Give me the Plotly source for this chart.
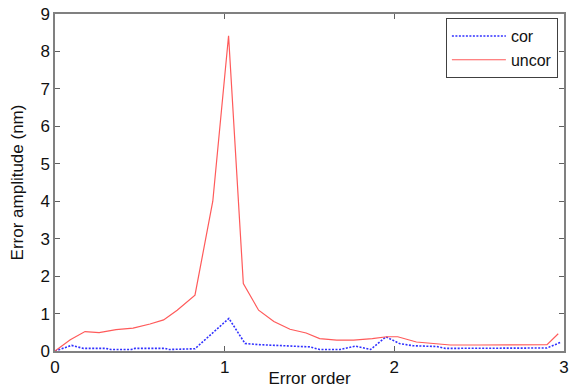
import plotly.graph_objects as go

# uncor (red solid)
uncor_x = [0.0, 0.09, 0.177, 0.26, 0.36, 0.46, 0.56, 0.64, 0.72, 0.825, 0.93, 1.023,
           1.11, 1.20, 1.29, 1.385, 1.48, 1.56, 1.66, 1.76, 1.87, 1.955, 2.02, 2.13,
           2.23, 2.33, 2.5, 2.7, 2.9, 2.966]
uncor_y = [0.0, 0.30, 0.52, 0.49, 0.57, 0.61, 0.72, 0.83, 1.09, 1.49, 4.0, 8.42,
           1.80, 1.09, 0.79, 0.58, 0.48, 0.33, 0.29, 0.29, 0.33, 0.38, 0.38, 0.24,
           0.20, 0.16, 0.16, 0.16, 0.17, 0.46]

# cor (blue dotted)
cor_x = [0.0, 0.098, 0.167, 0.30, 0.33, 0.45, 0.47, 0.65, 0.67, 0.825, 1.025,
         1.12, 1.20, 1.30, 1.50, 1.56, 1.68, 1.77, 1.86, 1.95, 2.03, 2.11, 2.25,
         2.30, 2.60, 2.9, 2.985]
cor_y = [0.0, 0.15, 0.07, 0.07, 0.04, 0.04, 0.07, 0.07, 0.04, 0.06, 0.87,
         0.20, 0.17, 0.15, 0.11, 0.04, 0.04, 0.13, 0.04, 0.38, 0.20, 0.14, 0.12,
         0.07, 0.07, 0.08, 0.24]

x_ticks = [0, 1, 2, 3]
y_ticks = [0, 1, 2, 3, 4, 5, 6, 7, 8, 9]

FONT = "Liberation Sans, Arial"

fig = go.Figure()
fig.add_trace(go.Scatter(x=cor_x, y=cor_y, mode="lines", name="cor",
                         line=dict(color="#3030ff", width=1.6, dash="2px,1.5px")))
fig.add_trace(go.Scatter(x=uncor_x, y=uncor_y, mode="lines", name="uncor",
                         line=dict(color="#ff5a5a", width=1.2)))

axis_common = dict(showgrid=False, zeroline=False, showline=True, linecolor="#808080",
                   linewidth=1.5, mirror="ticks", ticks="inside", ticklen=5,
                   tickcolor="#606060", automargin=False, ticklabeloverflow="allow",
                   tickfont=dict(family=FONT, size=17, color="#111"))

fig.update_layout(
    width=571, height=388,
    margin=dict(l=55, r=7, t=14, b=37),
    paper_bgcolor="white", plot_bgcolor="white",
    xaxis=dict(range=[0, 3], tickvals=x_ticks, ticktext=[str(v) for v in x_ticks],
               title=dict(text="Error order", standoff=0,
                          font=dict(family=FONT, size=17, color="#111")),
               **axis_common),
    yaxis=dict(range=[0, 9], tickvals=y_ticks, ticktext=[str(v) for v in y_ticks],
               title=dict(text="Error amplitude (nm)", standoff=12,
                          font=dict(family=FONT, size=17, color="#111")),
               **axis_common),
    legend=dict(x=0.988, y=0.988, xanchor="right", yanchor="top",
                bordercolor="#404040", borderwidth=1, bgcolor="white",
                font=dict(family=FONT, size=16, color="#111"),
                tracegroupgap=0, itemwidth=54),
    showlegend=True,
)

fig.write_html("out.html", config={"displayModeBar": False},
               post_script="document.body.style.margin='0';document.body.style.overflow='hidden';")
